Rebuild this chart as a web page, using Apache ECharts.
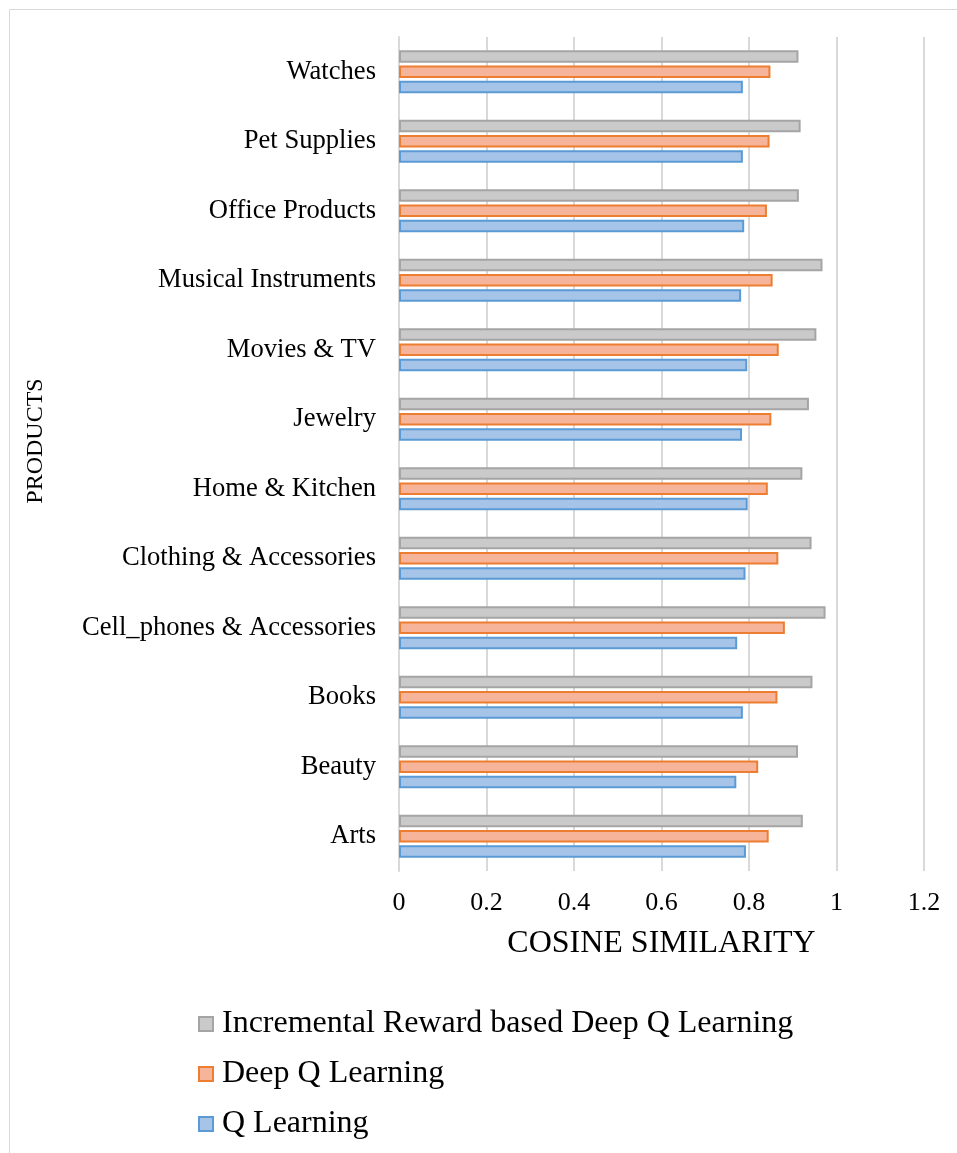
<!DOCTYPE html>
<html><head><meta charset="utf-8">
<script src="https://cdn.jsdelivr.net/npm/echarts@6/dist/echarts.min.js"></script>
<style>html,body{margin:0;padding:0;background:#fff}#c{width:957px;height:1153px}</style>
</head><body><div id="c"></div>
<script>
const categories = ['Arts','Beauty','Books','Cell_phones & Accessories','Clothing & Accessories','Home & Kitchen','Jewelry','Movies & TV','Musical Instruments','Office Products','Pet Supplies','Watches'];
const qLearning = [0.793,0.771,0.786,0.773,0.792,0.797,0.784,0.796,0.782,0.789,0.786,0.786];
const deepQ = [0.845,0.821,0.865,0.882,0.867,0.843,0.851,0.868,0.854,0.841,0.847,0.849];
const incremental = [0.923,0.912,0.945,0.975,0.943,0.922,0.937,0.954,0.968,0.914,0.918,0.913];
const xTicks = {min:0, max:1.2, interval:0.2};
const seriesNames = ['Q Learning','Deep Q Learning','Incremental Reward based Deep Q Learning'];

const chart = echarts.init(document.getElementById('c'), null, {renderer:'canvas'});
const font = '"Liberation Serif", "Times New Roman", serif';
function bar(name, data, fill, border){
  return {name, type:'bar', data, barWidth:12.5, barGap:'22%',
    itemStyle:{color:fill, borderColor:border, borderWidth:2}};
}
chart.setOption({
  animation:false,
  textStyle:{fontFamily:font, color:'#000'},
  graphic:[
    {type:'rect', shape:{x:9.5,y:9.5,width:1000,height:1200}, style:{fill:'none', stroke:'#d9d9d9', lineWidth:1}, z:-1},
    {type:'text', x:36, y:441, rotation:Math.PI/2,
      style:{text:'PRODUCTS', font:'24px ' + font, fill:'#000', align:'center', verticalAlign:'middle'}}
  ],
  grid:{left:399, right:33, top:37, bottom:282},
  xAxis:{type:'value', min:xTicks.min, max:xTicks.max, interval:xTicks.interval,
    axisLine:{show:false}, axisTick:{show:false},
    splitLine:{lineStyle:{color:'#d9d9d9', width:2}},
    axisLabel:{fontSize:26, color:'#000', margin:19, fontFamily:font},
    name:'COSINE SIMILARITY', nameLocation:'middle', nameGap:57,
    nameTextStyle:{fontSize:32, color:'#000', fontFamily:font}},
  yAxis:{type:'category', data:categories,
    axisLine:{show:true, lineStyle:{color:'#d9d9d9', width:2}}, axisTick:{show:false},
    axisLabel:{fontSize:26.6, color:'#000', margin:23, fontFamily:font}},
  legend:{orient:'vertical', left:193, top:1003, itemWidth:14, itemHeight:14, itemGap:18,
    icon:'rect',
    data:[seriesNames[2], seriesNames[1], seriesNames[0]],
    textStyle:{fontSize:32, color:'#000', fontFamily:font, padding:[0,0,0,4]}},
  series:[
    bar(seriesNames[2], incremental, '#cacaca', '#a5a5a5'),
    bar(seriesNames[1], deepQ, '#f6b59b', '#ed7d31'),
    bar(seriesNames[0], qLearning, '#a6c3e8', '#5b9bd5')
  ]
});
</script></body></html>
